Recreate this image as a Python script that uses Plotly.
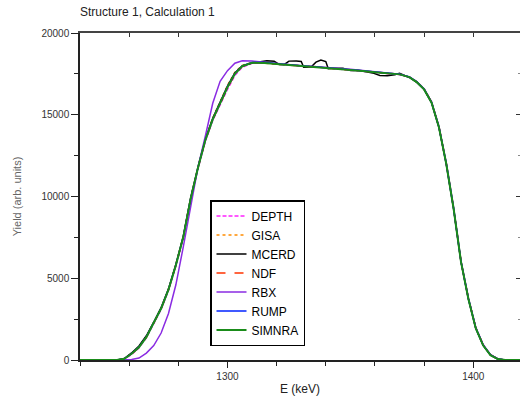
import plotly.graph_objects as go

# ---- data ----
energy = [1240, 1255, 1258, 1261, 1264, 1267, 1270, 1273, 1276, 1279, 1282, 1285, 1288, 1291,
          1294, 1297, 1300, 1303, 1306, 1310, 1315, 1320, 1325, 1330, 1335, 1340, 1345, 1350,
          1355, 1360, 1365, 1370, 1374, 1377, 1380, 1383, 1386, 1389, 1392, 1395, 1398, 1401,
          1404, 1407, 1410, 1413, 1419]

depth = [0, 0, 50, 340, 740, 1360, 2230, 3100, 4250, 5750, 7450, 9800, 11700, 13380, 14650, 15650,
         16550, 17400, 17900, 18150, 18180, 18110, 18030, 17980, 17930, 17870, 17820, 17750, 17660,
         17580, 17520, 17450, 17300, 17020, 16600, 15800, 14300, 12050, 9300, 6050, 3800, 2000, 950,
         320, 70, 0, 0]
gisa = [0, 0, 80, 400, 800, 1430, 2300, 3180, 4330, 5850, 7550, 9900, 11800, 13500, 14800, 15850,
        16800, 17600, 18020, 18200, 18160, 18090, 18050, 18000, 17950, 17890, 17830, 17770, 17690,
        17610, 17540, 17480, 17310, 17010, 16560, 15760, 14260, 12020, 9270, 6020, 3770, 1960, 910,
        310, 60, 0, 0]
ndf = [0, 0, 60, 370, 770, 1390, 2260, 3140, 4290, 5790, 7490, 9840, 11750, 13430, 14700, 15730,
       16660, 17480, 17960, 18180, 18170, 18100, 18040, 17990, 17930, 17880, 17830, 17760, 17680,
       17600, 17530, 17470, 17310, 17020, 16580, 15780, 14280, 12030, 9280, 6030, 3780, 1980, 930,
       320, 70, 0, 0]
rbx = [0, 0, 0, 30, 120, 420, 880, 1650, 2850, 4600, 6900, 9400, 11800, 13700, 15700, 17050,
       17700, 18150, 18300, 18280, 18200, 18120, 18060, 18000, 17950, 17900, 17850, 17780, 17700,
       17620, 17550, 17480, 17320, 17030, 16580, 15780, 14280, 12030, 9280, 6030, 3780, 1980, 930,
       320, 70, 0, 0]
rump = [0, 0, 70, 390, 790, 1410, 2290, 3160, 4310, 5810, 7510, 9860, 11770, 13460, 14730, 15760,
        16700, 17520, 17990, 18200, 18190, 18120, 18060, 18010, 17960, 17900, 17850, 17770, 17690,
        17610, 17540, 17480, 17310, 17010, 16560, 15760, 14260, 12010, 9260, 6010, 3760, 1960, 910,
        310, 60, 0, 0]
simnra = [0, 0, 70, 380, 780, 1400, 2280, 3150, 4300, 5800, 7500, 9850, 11760, 13450, 14720, 15750,
          16680, 17500, 17970, 18180, 18170, 18100, 18040, 17990, 17940, 17880, 17840, 17760, 17680,
          17600, 17530, 17470, 17300, 17000, 16550, 15750, 14250, 12000, 9250, 6000, 3750, 1950, 900,
          300, 60, 0, 0]

energy_mcerd = [1240, 1255, 1258, 1261, 1264, 1267, 1270, 1273, 1276, 1279, 1282, 1285, 1288, 1291,
                1294, 1297, 1300, 1303, 1306, 1310, 1313, 1316, 1319, 1321, 1323, 1325, 1328, 1330,
                1331, 1334, 1336, 1338, 1340, 1341, 1344, 1347, 1350, 1353, 1356, 1359, 1362, 1365,
                1368, 1370, 1372, 1374, 1377, 1380, 1383, 1386, 1389, 1392, 1395, 1398, 1401, 1404,
                1407, 1410, 1413, 1419]
mcerd = [0, 0, 90, 430, 860, 1480, 2310, 3200, 4350, 5850, 7560, 9900, 11800, 13500, 14780, 15820,
         16760, 17560, 17980, 18160, 18240, 18300, 18270, 18080, 18060, 18280, 18290, 18260, 17900,
         17920, 18220, 18350, 18250, 17820, 17840, 17850, 17700, 17720, 17640, 17560, 17400, 17380,
         17450, 17540, 17400, 17280, 16980, 16540, 15740, 14240, 11980, 9230, 5980, 3730, 1940, 890,
         290, 50, 0, 0]

x_range = [1240, 1419]
y_range = [0, 20000]

FONT = "Arial, Liberation Sans, sans-serif"

series = [
    ("DEPTH", energy, depth, "#ff22ff", "4px,2px", 1.5),
    ("GISA", energy, gisa, "#ff8c00", "dot", 1.5),
    ("MCERD", energy_mcerd, mcerd, "#000000", "solid", 1.5),
    ("NDF", energy, ndf, "#ff3300", "dash", 1.5),
    ("RBX", energy, rbx, "#8a2be2", "solid", 1.5),
    ("RUMP", energy, rump, "#0022ff", "solid", 1.5),
    ("SIMNRA", energy, simnra, "#1a8c1a", "solid", 2),
]

fig = go.Figure()
for name, xs, ys, col, dash, w in series:
    fig.add_trace(go.Scatter(x=xs, y=ys, name=name, mode="lines",
                             line=dict(color=col, dash=dash, width=w)))

# dummy trace for mirrored (inside-tick) top/right axes
fig.add_trace(go.Scatter(x=[], y=[], xaxis="x2", yaxis="y2", showlegend=False,
                         hoverinfo="skip", mode="lines"))

fig.update_layout(
    width=520, height=401,
    margin=dict(l=80, r=0, t=33, b=41),
    paper_bgcolor="white", plot_bgcolor="white",
    font=dict(family=FONT, color="#222", size=10),
    title=dict(text="Structure 1, Calculation 1", x=80 / 520, xanchor="left",
               y=1 - 12 / 401, yanchor="middle", font=dict(size=12, color="#222")),
    showlegend=True,
    legend=dict(x=(210 - 80) / 440, y=(360 - 200) / 327, xanchor="left", yanchor="top",
                bordercolor="black", borderwidth=1.5, bgcolor="white",
                font=dict(size=12, color="black"), tracegroupgap=0),
    xaxis=dict(range=x_range, dtick=100, tick0=1300, ticks="outside", ticklen=6,
               tickwidth=1.2, tickcolor="#222", showline=True, linecolor="#222",
               linewidth=1.5, showgrid=False, zeroline=False, layer="below traces",
               tickformat="d", tickfont=dict(size=10, color="#333"),
               minor=dict(dtick=20, ticks="outside", ticklen=4, tickcolor="#222", showgrid=False),
               title=dict(text="E (keV)", font=dict(size=12, color="#222"), standoff=4)),
    yaxis=dict(range=y_range, dtick=5000, ticks="outside", ticklen=7, tickwidth=1.2,
               tickcolor="#222", showline=True, linecolor="#222", linewidth=1.5,
               showgrid=False, zeroline=False, layer="below traces",
               tickformat="d", tickfont=dict(size=10, color="#333"),
               minor=dict(dtick=2500, ticks="outside", ticklen=4, tickcolor="#222", showgrid=False),
               title=dict(text="Yield (arb. units)", font=dict(size=11, color="#666"), standoff=18)),
    xaxis2=dict(range=x_range, overlaying="x", side="top", showticklabels=False,
                dtick=20, tick0=1240, ticks="inside", ticklen=4, tickcolor="#333",
                showline=True, linecolor="#444", linewidth=2, showgrid=False, zeroline=False),
    yaxis2=dict(range=y_range, overlaying="y", side="right", showticklabels=False,
                dtick=5000, ticks="inside", ticklen=4, tickcolor="#333", showline=False,
                showgrid=False, zeroline=False,
                minor=dict(dtick=2500, ticks="inside", ticklen=2, tickcolor="#888")),
)

fig.write_html("out.html")
